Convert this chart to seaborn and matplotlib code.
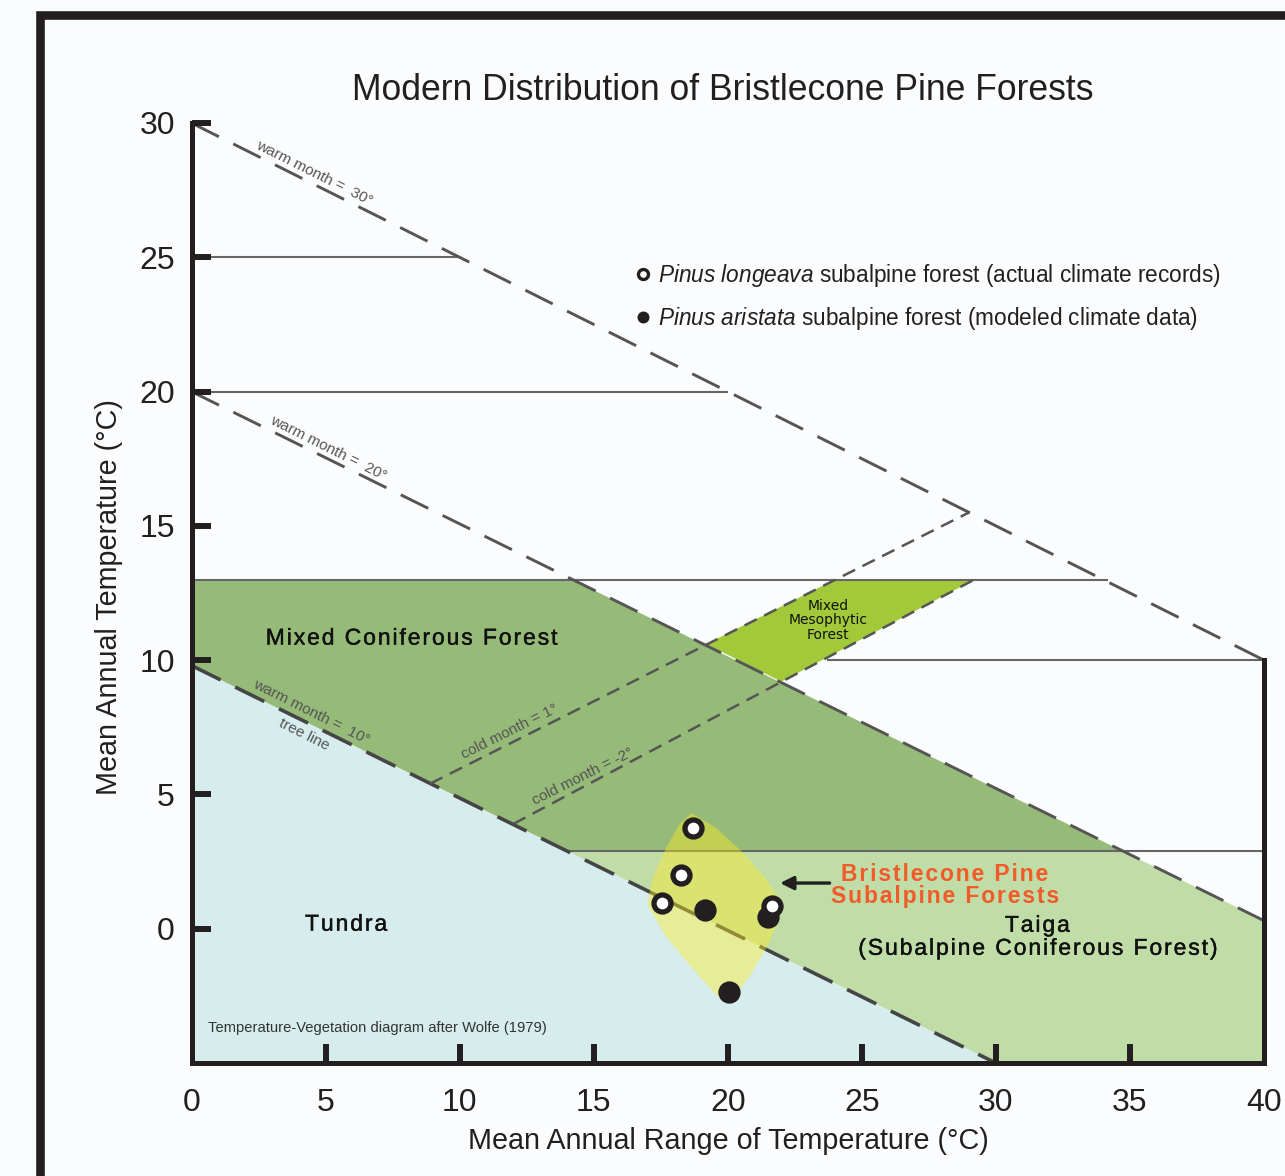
import matplotlib
matplotlib.use("Agg")
import matplotlib.pyplot as plt
import matplotlib.patheffects as pe
from matplotlib.patches import Rectangle
from matplotlib.lines import Line2D
import numpy as np
import pandas as pd
import seaborn as sns

# ---------------------------------------------------------------------------
# Temperature-vegetation fields after Wolfe (1979)
# R = mean annual range of temperature, T = mean annual temperature (deg C)
# ---------------------------------------------------------------------------
warm30_R = [0, 40]
warm30_T = [30, 10]
warm20_R = [0, 40]
warm20_T = [20, 0.3]
warm10_R = [0, 30]            # tree line
warm10_T = [9.8, -5]
cold1_R = [8.9, 29.0]
cold1_T = [5.4, 15.5]
coldm2_R = [12.0, 29.2]
coldm2_T = [3.9, 13.0]

# horizontal isotherm segments
iso_T = [25, 20, 13, 10, 2.9]
iso_R_start = [0, 0, 0, 23.7, 14.0]
iso_R_end = [10, 20, 34.2, 40, 40]

# vegetation fields
conifer_R = [0, 14.2, 34.7, 14.0, 0]
conifer_T = [13, 13, 2.9, 2.9, 9.8]
mesophytic_R = [19.2, 24.0, 29.2, 22.0]
mesophytic_T = [10.6, 13.0, 13.0, 9.2]
taiga_R = [14.0, 34.7, 40, 40, 30]
taiga_T = [2.9, 2.9, 0.3, -5, -5]
tundra_R = [0, 30, 0]
tundra_T = [9.8, -5, -5]

# bristlecone pine climate envelope
envelope_R = [18.65, 19.5, 20.5, 21.4, 22.0, 21.9, 21.5, 20.8, 20.1,
              19.6, 18.7, 17.7, 17.0, 17.2, 17.7, 18.2]
envelope_T = [4.3, 3.8, 2.9, 1.9, 1.0, 0.3, -0.6, -1.8, -2.7,
              -2.5, -1.5, -0.3, 0.9, 1.9, 3.0, 3.9]

# stations
longeava_R = [18.7, 18.25, 17.55, 21.65]
longeava_T = [3.75, 2.0, 0.95, 0.85]
aristata_R = [19.15, 21.5, 20.05]
aristata_T = [0.7, 0.45, -2.35]

x_ticks = [0, 5, 10, 15, 20, 25, 30, 35, 40]
y_ticks = [0, 5, 10, 15, 20, 25, 30]

# ---------------------------------------------------------------------------
sns.set_style("white")
plt.rcParams["font.family"] = ["Liberation Sans", "DejaVu Sans"]
plt.rcParams["mathtext.fontset"] = "custom"
plt.rcParams["mathtext.rm"] = "Liberation Sans"
plt.rcParams["mathtext.it"] = "Liberation Sans:italic"

W, H = 1285, 1176
fig = plt.figure(figsize=(W / 100, H / 100), dpi=100)
bg = "#fbfcfd"
fig.patch.set_facecolor(bg)

x0, x1 = 191.5, 1264.0
y_top, y_bot = 123.0, 1063.0
ax = fig.add_axes([x0 / W, 1 - y_bot / H, (x1 - x0) / W, (y_bot - y_top) / H])
ax.set_facecolor(bg)
ax.set_xlim(0, 40)
ax.set_ylim(-5, 30)
ax.set_axisbelow(False)

ink = "#231f20"

# outer frame
fig.patches.append(Rectangle((40 / W, -0.2), 1.5, 1 - 14.5 / H + 0.2,
                             transform=fig.transFigure, fill=False,
                             edgecolor=ink, linewidth=6.2, clip_on=False))

# vegetation fields
ax.fill(tundra_R, tundra_T, color="#d7ecec", lw=0, zorder=1)
ax.fill(taiga_R, taiga_T, color="#c0dca7", lw=0, zorder=1)
ax.fill(conifer_R, conifer_T, color="#96bb78", lw=0, zorder=1)
ax.fill(mesophytic_R, mesophytic_T, color="#a2c93a", lw=0, zorder=1)

# isotherms
for t, r0, r1 in zip(iso_T, iso_R_start, iso_R_end):
    ax.plot([r0, r1], [t, t], color="#666666", lw=1.5, zorder=2,
            solid_capstyle="butt")

warm_kw = dict(color="#555555", lw=2.1, linestyle=(0, (10.5, 5.5)), zorder=2)
ax.plot(warm30_R, warm30_T, **warm_kw)
ax.plot(warm20_R, warm20_T, **warm_kw)
ax.plot(warm10_R, warm10_T, color="#454545", lw=2.6,
        linestyle=(0, (9, 4.5)), zorder=2)
cold_kw = dict(color="#555555", lw=1.8, linestyle=(0, (5.5, 3.3)), zorder=2)
ax.plot(cold1_R, cold1_T, **cold_kw)
ax.plot(coldm2_R, coldm2_T, **cold_kw)

# bristlecone envelope
ax.fill(envelope_R, envelope_T, color="#ffee22", alpha=0.42, lw=0, zorder=3)

# stations
pts = pd.DataFrame({
    "R": aristata_R + longeava_R,
    "T": aristata_T + longeava_T,
    "group": ["aristata"] * len(aristata_R) + ["longeava"] * len(longeava_R),
})
sns.scatterplot(data=pts[pts.group == "aristata"], x="R", y="T", ax=ax,
                color=ink, edgecolor=ink, s=150, linewidth=3.8,
                zorder=5, legend=False)
sns.scatterplot(data=pts[pts.group == "longeava"], x="R", y="T", ax=ax,
                color="white", edgecolor=ink, s=150, linewidth=3.8,
                zorder=6, legend=False)

# arrow to the envelope
ax.annotate("", xy=(21.95, 1.7), xytext=(23.8, 1.7),
            arrowprops=dict(arrowstyle="-|>", color=ink, lw=2.4,
                            mutation_scale=20, shrinkA=0, shrinkB=0),
            zorder=7)

# axes styling
ax.spines["top"].set_visible(False)
for side in ["left", "bottom", "right"]:
    ax.spines[side].set_linewidth(3.6)
    ax.spines[side].set_color(ink)
    ax.spines[side].set_zorder(4)
ax.spines["right"].set_bounds(-5, 10)
ax.set_xticks(x_ticks)
ax.set_yticks(y_ticks)
ax.set_xticklabels([str(v) for v in x_ticks])
ax.set_yticklabels([str(v) for v in y_ticks])
ax.tick_params(axis="both", direction="in", length=14, width=4.3,
               color=ink, labelsize=23, labelcolor=ink)
ax.tick_params(axis="y", pad=12, left=True, right=False)
ax.tick_params(axis="x", pad=18, bottom=True, top=False)
ax.xaxis.get_major_ticks()[0].tick1line.set_visible(False)
ax.xaxis.get_major_ticks()[-1].tick1line.set_visible(False)
ax.grid(False)

ax.set_xlabel("Mean Annual Range of Temperature (\u00b0C)", fontsize=20.7,
              color=ink)
ax.set_ylabel("Mean Annual Temperature (\u00b0C)", fontsize=20.7, color=ink)
ax.xaxis.label.set_verticalalignment("center")
ax.yaxis.label.set_verticalalignment("center")
ax.xaxis.set_label_coords((728 - x0) / (x1 - x0), (y_bot - 1141) / (y_bot - y_top))
ax.yaxis.set_label_coords((109 - x0) / (x1 - x0), (y_bot - 597) / (y_bot - y_top))

fig.text(723 / W, 1 - 90 / H, "Modern Distribution of Bristlecone Pine Forests",
         ha="center", va="center", fontsize=25.6, color=ink)

# legend
handles = [
    Line2D([], [], marker="o", linestyle="none", markersize=7.2,
           markerfacecolor="white", markeredgecolor=ink, markeredgewidth=2.4),
    Line2D([], [], marker="o", linestyle="none", markersize=8.6,
           markerfacecolor=ink, markeredgecolor=ink, markeredgewidth=0),
]
labels = [
    r"$\it{Pinus\ longeava}$ subalpine forest (actual climate records)",
    r"$\it{Pinus\ aristata}$ subalpine forest (modeled climate data)",
]
ax.legend(handles, labels, loc="upper left",
          bbox_to_anchor=(636 / W, 1 - 262 / H), bbox_transform=fig.transFigure,
          frameon=False, fontsize=16.3, handlelength=0.6, handletextpad=0.35,
          labelspacing=0.7, borderpad=0, borderaxespad=0,
          labelcolor=ink)


def tracked(s):
    return "\u200a".join(s)


heavy = [pe.withStroke(linewidth=0.3, foreground="#111111")]
region_kw = dict(ha="center", va="center", color="#111111", zorder=8,
                 fontsize=16.5, path_effects=heavy)
ax.text(8.19, 10.82, tracked("Mixed Coniferous Forest"), **region_kw)
ax.text(5.76, 0.17, tracked("Tundra"), **region_kw)
ax.text(31.54, -0.30, tracked("Taiga") + "\n" + tracked("(Subalpine Coniferous Forest)"),
        linespacing=1.0, **region_kw)
ax.text(28.1, 1.62, tracked("Bristlecone Pine") + "\n" + tracked("Subalpine Forests"),
        ha="center", va="center", color="#f15a29", fontsize=16.5,
        fontweight="bold", linespacing=0.95, zorder=8)
ax.text(23.74, 11.49, "Mixed\nMesophytic\nForest", ha="center", va="center",
        color="#111111", fontsize=10, linespacing=1.05, zorder=8,
        family=["DejaVu Sans"])
ax.text(0.62, -3.70, "Temperature-Vegetation diagram after Wolfe (1979)",
        ha="left", va="center", color="#333333", fontsize=10.6, zorder=8)

# labels along the isolines
ang = np.degrees(np.arctan2(0.5 * (y_bot - y_top) / 35, (x1 - x0) / 40))
small_kw = dict(ha="center", va="center", color="#555555", fontsize=11,
                rotation_mode="anchor", zorder=8)
ax.text(4.59, 28.12, "warm month =  30\u00b0", rotation=-ang, **small_kw)
ax.text(5.10, 17.90, "warm month =  20\u00b0", rotation=-ang, **small_kw)
ax.text(4.45, 8.05, "warm month =  10\u00b0", rotation=-ang, **small_kw)
ax.text(4.20, 7.24, "tree line", rotation=-ang, **small_kw)
ax.text(11.85, 7.33, "cold month = 1\u00b0", rotation=ang, **small_kw)
ax.text(14.60, 5.68, "cold month = -2\u00b0", rotation=ang, **small_kw)

fig.savefig("out.png", dpi=100, facecolor=fig.get_facecolor())
